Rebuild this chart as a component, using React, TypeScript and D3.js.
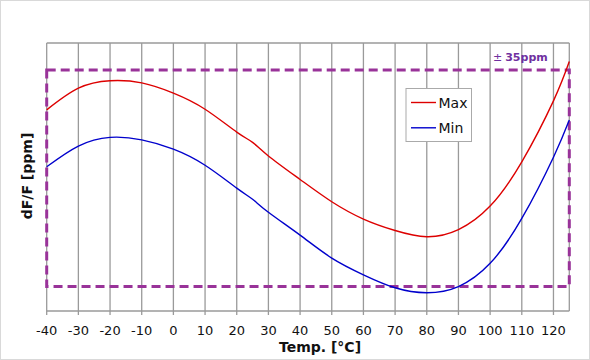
import React from "react";
import * as d3 from "d3";

const temps = [-40, -30, -20, -10, 0, 10, 20, 25, 30, 40, 50, 60, 70, 80, 90, 100, 110, 120, 125];
const maxPpm = [22.1, 29.1, 31.5, 30.8, 27.5, 22.3, 14.9, 11.6, 7.2, -0.4, -7.6, -13.2, -16.9, -18.9, -16.6, -9.0, 5.3, 25.0, 37.7];
const minPpm = [3.7, 10.4, 13.2, 12.4, 9.4, 4.2, -3.2, -6.8, -11.0, -18.4, -25.8, -31.2, -35.4, -37.0, -35.0, -27.5, -13.0, 6.8, 18.8];
const xTicks = [-40, -30, -20, -10, 0, 10, 20, 30, 40, 50, 60, 70, 80, 90, 100, 110, 120];
const tolerance = 35;
const xDomain: [number, number] = [-40, 125];
const yDomain: [number, number] = [-42.9, 43.7];
const seriesNames = ["Max", "Min"];
const seriesColors = ["#dd0000", "#0000cc"];

const W = 590, H = 360;
const L = 46.7, R = 569.3, T = 43, B = 311;
const FONT = "DejaVu Sans, Verdana, sans-serif";
const PURPLE = "#993399";

export default function App() {
  const x = d3.scaleLinear().domain(xDomain).range([L, R]);
  const y = d3.scaleLinear().domain(yDomain).range([B, T]);
  const line = d3
    .line<[number, number]>()
    .x((d) => x(d[0]))
    .y((d) => y(d[1]))
    .curve(d3.curveNatural);
  const series = [maxPpm, minPpm].map((vals) => temps.map((t, i) => [t, vals[i]] as [number, number]));

  return (
    <svg
      width={W}
      height={H}
      style={{ position: "fixed", left: 0, top: 0, background: "#fff" }}
      fontFamily={FONT}
    >
      <rect x={0.5} y={0.5} width={W - 1} height={H - 1} fill="#fff" stroke="#d9d9d9" />
      {xTicks.map((t) => (
        <line key={t} x1={x(t)} x2={x(t)} y1={T} y2={B + 4} stroke="#9a9a9a" strokeWidth={1.3} />
      ))}
      <line x1={L} x2={R} y1={T} y2={T} stroke="#9a9a9a" strokeWidth={1.3} />
      <line x1={R} x2={R} y1={T} y2={B} stroke="#9a9a9a" strokeWidth={1.3} />
      <line x1={L} x2={R} y1={B} y2={B} stroke="#9a9a9a" strokeWidth={1.3} />
      <rect
        x={x(xDomain[0])}
        y={y(tolerance)}
        width={x(xDomain[1]) - x(xDomain[0])}
        height={y(-tolerance) - y(tolerance)}
        fill="none"
        stroke={PURPLE}
        strokeWidth={3}
        strokeDasharray="9 5"
      />
      {series.map((s, i) => (
        <path key={i} d={line(s) || ""} fill="none" stroke={seriesColors[i]} strokeWidth={1.4} />
      ))}
      {xTicks.map((t) => (
        <text key={t} x={x(t)} y={335} textAnchor="middle" fontSize={13} fill="#111">
          {t}
        </text>
      ))}
      <text x={320} y={352} textAnchor="middle" fontSize={14} fontWeight="bold" fill="#111">
        Temp. [°C]
      </text>
      <text
        transform={`translate(32,176) rotate(-90)`}
        textAnchor="middle"
        fontSize={14}
        fontWeight="bold"
        fill="#111"
      >
        dF/F [ppm]
      </text>
      <text x={493} y={61} fill="#7030a0" fontSize={11}>
        <tspan fontSize={11} fontWeight="normal">±</tspan>
        <tspan dx={3} fontWeight="bold">{tolerance}ppm</tspan>
      </text>
      <rect x={406} y={88.5} width={65.5} height={53} fill="#fff" stroke="#aaaaaa" />
      {seriesNames.map((n, i) => (
        <g key={n}>
          <line x1={411} x2={436} y1={102.5 + i * 25.3} y2={102.5 + i * 25.3} stroke={seriesColors[i]} strokeWidth={1.4} />
          <text x={438.5} y={107.5 + i * 25.3} fontSize={14} fill="#111">
            {n}
          </text>
        </g>
      ))}
    </svg>
  );
}
